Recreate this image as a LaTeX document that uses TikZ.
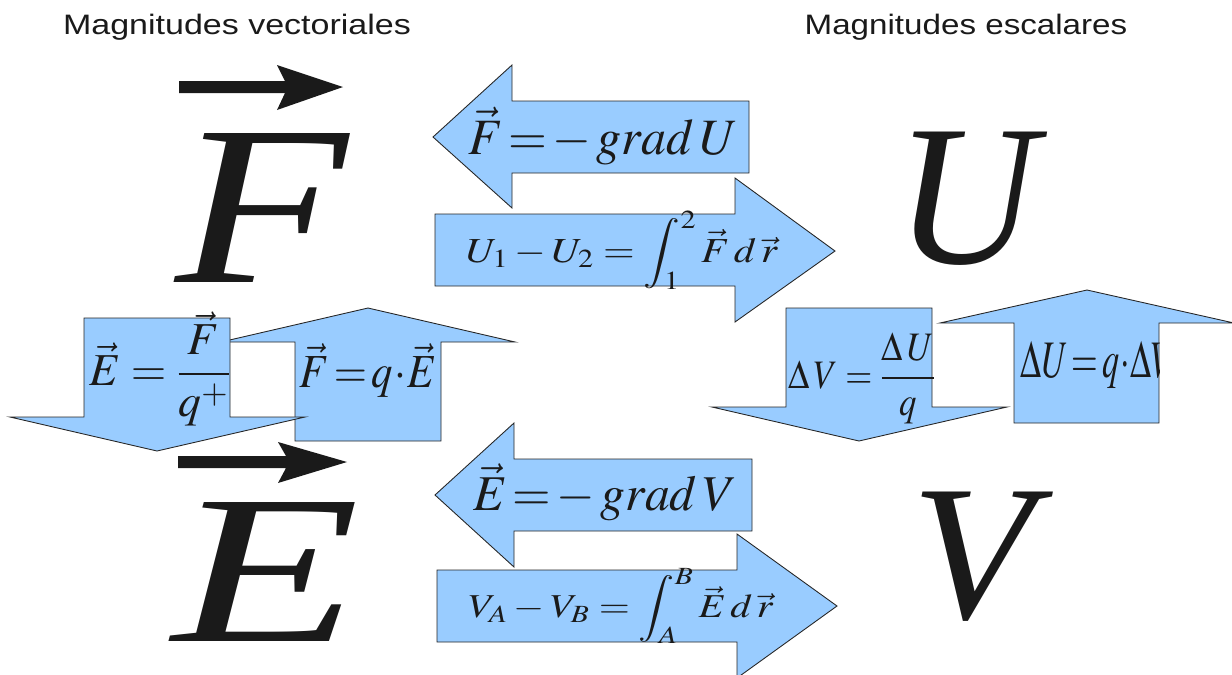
\documentclass[tikz,border=0pt]{standalone}
\usepackage{amsmath, amssymb, graphicx}
\usepackage{mathptmx}
\usepackage[no-math]{fontspec}
\newfontfamily\headfont{Liberation Sans}
\newfontfamily\letterfont{Liberation Serif}
\definecolor{arrowblue}{HTML}{99CCFF}
\definecolor{inkgray}{HTML}{1A1A1A}

\tikzset{
    block/.style={fill=arrowblue, draw=black!85, line width=0.5pt},
    formula/.style={inner sep=0pt, anchor=base, text=inkgray},
    bigletter/.style={inner sep=0pt, anchor=base west, text=inkgray},
    header/.style={inner sep=0pt, anchor=base, text=inkgray},
}

\begin{document}
\begin{tikzpicture}[x=0.02cm, y=-0.02cm]
    \useasboundingbox (0,0) rectangle (1232,674);
    \clip (0,0) rectangle (1232,674);

    % Titles
    \node[header] (vect_title) at (237,34) {\scalebox{1.21}[1]{\fontsize{16}{18}\headfont Magnitudes vectoriales}};
    \node[header] (scal_title) at (966,34) {\scalebox{1.18}[1]{\fontsize{16}{18}\headfont Magnitudes escalares}};

    % Big letters
    \node[bigletter] (big_F) at (175,282) {\resizebox{3.45cm}{2.98cm}{\letterfont\itshape F}};
    \node[bigletter] (big_E) at (172,641) {\resizebox{3.75cm}{2.78cm}{\letterfont\itshape E}};
    \node[bigletter] (big_U) at (895,263) {\resizebox{2.83cm}{2.63cm}{\letterfont\itshape U}};
    \node[bigletter] (big_V) at (911,618) {\resizebox{2.45cm}{2.53cm}{\letterfont\itshape V}};

    % Vector arrows over F and E
    \fill[inkgray] (179,81) -- (285,81) -- (277,65) -- (343,87) -- (277,110) -- (285,93) -- (179,93) -- cycle;
    \fill[inkgray] (178,456) -- (286,456) -- (278,442) -- (347,462) -- (278,483) -- (286,468) -- (178,468) -- cycle;

    % F <-> U
    \draw[block] (433,137) -- (512,65) -- (512,101) -- (749,101) -- (749,173) -- (512,173) -- (512,208) -- cycle;
    \draw[block] (435,214) -- (735,214) -- (735,178) -- (835,251) -- (735,322) -- (735,286) -- (435,286) -- cycle;
    \node[formula] (grad_U) at (603,154) {\scalebox{0.98}[1]{\fontsize{29}{31}\selectfont $\vec{F}\!=\!-\,grad\,U$}};
    \node[formula] (int_F) at (622,262) {\scalebox{1.16}[1]{\fontsize{20}{22}\selectfont $U_{1}-U_{2}=\displaystyle\int_{1}^{2}\vec{F}\,d\,\vec{r}$}};

    % E <-> V
    \draw[block] (435,495) -- (514,423) -- (514,459) -- (752,459) -- (752,531) -- (514,531) -- (514,567) -- cycle;
    \draw[block] (437,570) -- (737,570) -- (737,534) -- (837,606) -- (737,678) -- (737,642) -- (437,642) -- cycle;
    \node[formula] (grad_V) at (605,510) {\scalebox{0.99}[1]{\fontsize{28.5}{30}\selectfont $\vec{E}\!=\!-\,grad\,V$}};
    \node[formula] (int_E) at (621,617) {\scalebox{1.2}[1]{\fontsize{19}{21}\selectfont $V_{A}-V_{B}=\displaystyle\int_{A}^{B}\vec{E}\,d\,\vec{r}$}};

    % F <-> E
    \draw[block] (368,308) -- (515,342) -- (441,342) -- (441,441) -- (295,441) -- (295,342) -- (221,342) -- cycle;
    \draw[block] (84,318) -- (230,318) -- (230,417) -- (305,417) -- (157,451) -- (10,417) -- (84,417) -- cycle;
    \node[formula] (E_Fq) at (160,385) {\fontsize{26}{28}\selectfont $\vec{E}=\dfrac{\vec{F}}{q^{+}}$};
    \node[formula] (F_qE) at (368,387) {\scalebox{0.9}[1]{\fontsize{27}{29}\selectfont $\vec{F}\!=\!q\!\cdot\!\vec{E}$}};

    % U <-> V
    \draw[block] (1087,290) -- (1234,323) -- (1159,323) -- (1159,423) -- (1014,423) -- (1014,323) -- (940,323) -- cycle;
    \draw[block] (786,308) -- (932,308) -- (932,407) -- (1007,407) -- (859,441) -- (712,407) -- (786,407) -- cycle;
    \node[formula] (DV_DU) at (862,388) {\scalebox{0.86}[1]{\fontsize{23}{25}\selectfont $\Delta\,V=\dfrac{\Delta\,U}{q}$}};
    \begin{scope}
        \clip (1014,323) rectangle (1159,423);
        \node[formula] (DU_qDV) at (1098,377) {\scalebox{0.65}[1]{\fontsize{30}{32}\selectfont $\Delta U\!=\!q\!\cdot\!\Delta V$}};
    \end{scope}
\end{tikzpicture}
\end{document}
